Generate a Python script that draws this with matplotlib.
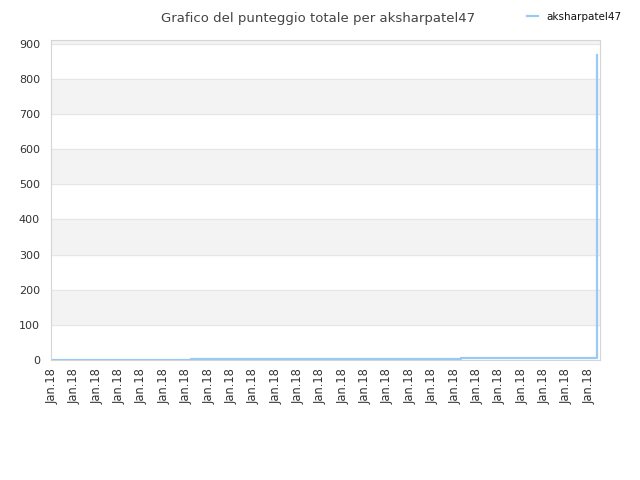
import matplotlib
matplotlib.use('Agg')
import matplotlib.pyplot as plt
import numpy as np

# data
player = 'aksharpatel47'
x_pos = [0, 6.2, 18.3, 24.38]          # position in tick units
score = [1, 4, 7, 868]
tick_labels = ['Jan.18'] * 25
y_ticks = [0, 100, 200, 300, 400, 500, 600, 700, 800, 900]

fig = plt.figure(figsize=(6.4, 4.8), dpi=100)
ax = fig.add_axes([0.0797, 0.25, 0.8578, 0.6667])

# alternating bands
for lo in range(100, 1000, 200):
    ax.axhspan(lo, lo + 100, color='#f3f3f3', zorder=0)
for yt in y_ticks[1:]:
    ax.axhline(yt, color='#e6e6e6', lw=0.8, zorder=0.5)

ax.plot(x_pos, score, drawstyle='steps-post', color='#99c9f5', lw=1.6,
        label=player, zorder=2)

ax.set_xlim(-0.05, 24.5)
ax.set_ylim(0, 911)
ax.set_yticks(y_ticks)
ax.set_xticks(np.arange(len(tick_labels)))
ax.set_xticklabels(tick_labels, rotation=90)
ax.tick_params(axis='both', labelsize=8, colors='#333333', length=0)
ax.tick_params(axis='y', pad=8)
ax.tick_params(axis='x', pad=6, labelsize=8.3)
for s in ax.spines.values():
    s.set_color('#d5d5d5')
    s.set_linewidth(0.8)

fig.text(0.497, 0.975, 'Grafico del punteggio totale per ' + player,
         ha='center', va='top', fontsize=9.5, color='#444444')
fig.legend(loc='upper right', bbox_to_anchor=(0.985, 0.995), frameon=False,
           fontsize=7.5, handlelength=1.0, handletextpad=0.8,
           labelcolor='#111111')

plt.savefig('out.png', dpi=100)
